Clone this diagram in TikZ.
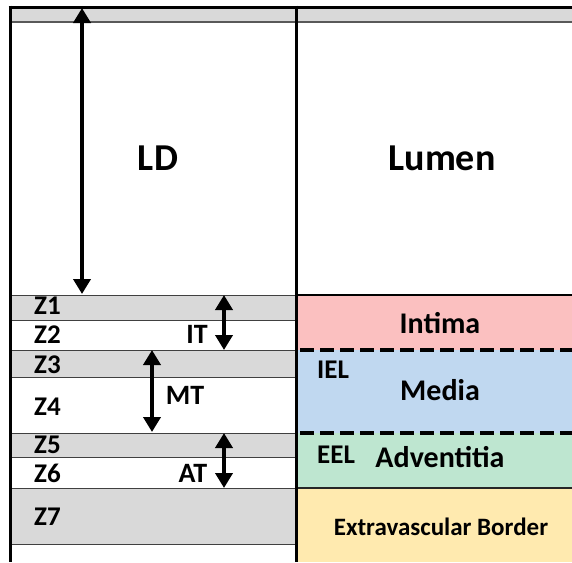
\documentclass[tikz,border=0pt]{standalone}
\usepackage{fontspec}
\setmainfont{Carlito}
\usetikzlibrary{arrows.meta}

\definecolor{zonegray}{HTML}{D9D9D9}
\definecolor{zoneline}{HTML}{404040}
\definecolor{intimafill}{RGB}{251,192,192}
\definecolor{mediafill}{RGB}{192,216,240}
\definecolor{adventfill}{RGB}{190,230,208}
\definecolor{borderfill}{RGB}{255,234,175}

\tikzset{
  frameline/.style={line width=3pt, black},
  zonesep/.style={line width=1pt, zoneline},
  laminaline/.style={line width=4pt, black, dash pattern=on 14pt off 6pt},
  dimarrow/.style={line width=3.8pt, black,
    {Triangle[width=17pt,length=15pt]}-{Triangle[width=17pt,length=15pt]}},
  bigtxt/.style={font=\fontsize{38}{40}\selectfont\bfseries, inner sep=0pt, anchor=base},
  zonetxt/.style={font=\fontsize{27}{29}\selectfont\bfseries, inner sep=0pt, anchor=base west},
  dimtxt/.style={font=\fontsize{28}{30}\selectfont\bfseries, inner sep=0pt, anchor=base},
  layertxt/.style={font=\fontsize{30}{32}\selectfont\bfseries, inner sep=0pt, anchor=base},
  smalltxt/.style={font=\fontsize{25}{27}\selectfont\bfseries, inner sep=0pt, anchor=base},
}

\begin{document}
\begin{tikzpicture}[x=1pt, y=-1pt]
\useasboundingbox (0,0) rectangle (572,562);

% header strip
\fill[zonegray] (10,7) rectangle (572,22);
\draw[line width=1.2pt, black!65] (10,22) -- (572,22);

% left column: grey zones
\fill[zonegray] (10,295) rectangle (296,320);
\fill[zonegray] (10,350) rectangle (296,377);
\fill[zonegray] (10,433) rectangle (296,457);
\fill[zonegray] (10,488) rectangle (296,544);
\foreach \yy in {295,320,350,377,433,457,488,544}
  \draw[zonesep] (10,\yy) -- (296,\yy);

% right column: vessel wall layers
\fill[intimafill] (296,295) rectangle (572,350);
\fill[mediafill]  (296,350) rectangle (572,433);
\fill[adventfill] (296,433) rectangle (572,488);
\fill[borderfill] (296,488) rectangle (572,562);
\draw[line width=1.2pt, black] (296,295) -- (572,295);
\draw[line width=1.5pt, black!85] (296,488) -- (572,488);
\draw[laminaline] (300,350) -- (572,350);
\draw[laminaline] (300,433) -- (572,433);

% frame
\draw[frameline] (8.5,7) -- (572,7);
\draw[frameline] (10,5.5) -- (10,562);
\draw[frameline] (296,5.5) -- (296,562);

% dimension arrows
\coordinate (ldTop) at (82,8);
\coordinate (ldBot) at (82,294);
\coordinate (itTop) at (224,295);
\coordinate (itBot) at (224,350);
\coordinate (mtTop) at (152,350);
\coordinate (mtBot) at (152,432);
\coordinate (atTop) at (224,433);
\coordinate (atBot) at (224,488);
\draw[dimarrow] (ldTop) -- (ldBot);
\draw[dimarrow] (itTop) -- (itBot);
\draw[dimarrow] (mtTop) -- (mtBot);
\draw[dimarrow] (atTop) -- (atBot);

% labels
\node[bigtxt] (ld) at (158,170) {LD};
\node[bigtxt] (lumen) at (442,170) {Lumen};

\node[zonetxt] (z1) at (34,314) {Z1};
\node[zonetxt] (z2) at (34,343) {Z2};
\node[zonetxt] (z3) at (34,373) {Z3};
\node[zonetxt] (z4) at (34,415) {Z4};
\node[zonetxt] (z5) at (34,453) {Z5};
\node[zonetxt] (z6) at (34,482) {Z6};
\node[zonetxt] (z7) at (34,525) {Z7};

\node[dimtxt] (it) at (197,343) {IT};
\node[dimtxt] (mt) at (185,404) {MT};
\node[dimtxt] (at) at (193,482) {AT};

\node[layertxt] (intima) at (440,333) {Intima};
\node[layertxt] (media) at (440,400) {Media};
\node[layertxt] (advent) at (440,467) {Adventitia};
\node[zonetxt] (iel) at (317,378) {IEL};
\node[zonetxt] (eel) at (317,463) {EEL};
\node[smalltxt] (evb) at (441,535) {Extravascular Border};
\end{tikzpicture}
\end{document}
